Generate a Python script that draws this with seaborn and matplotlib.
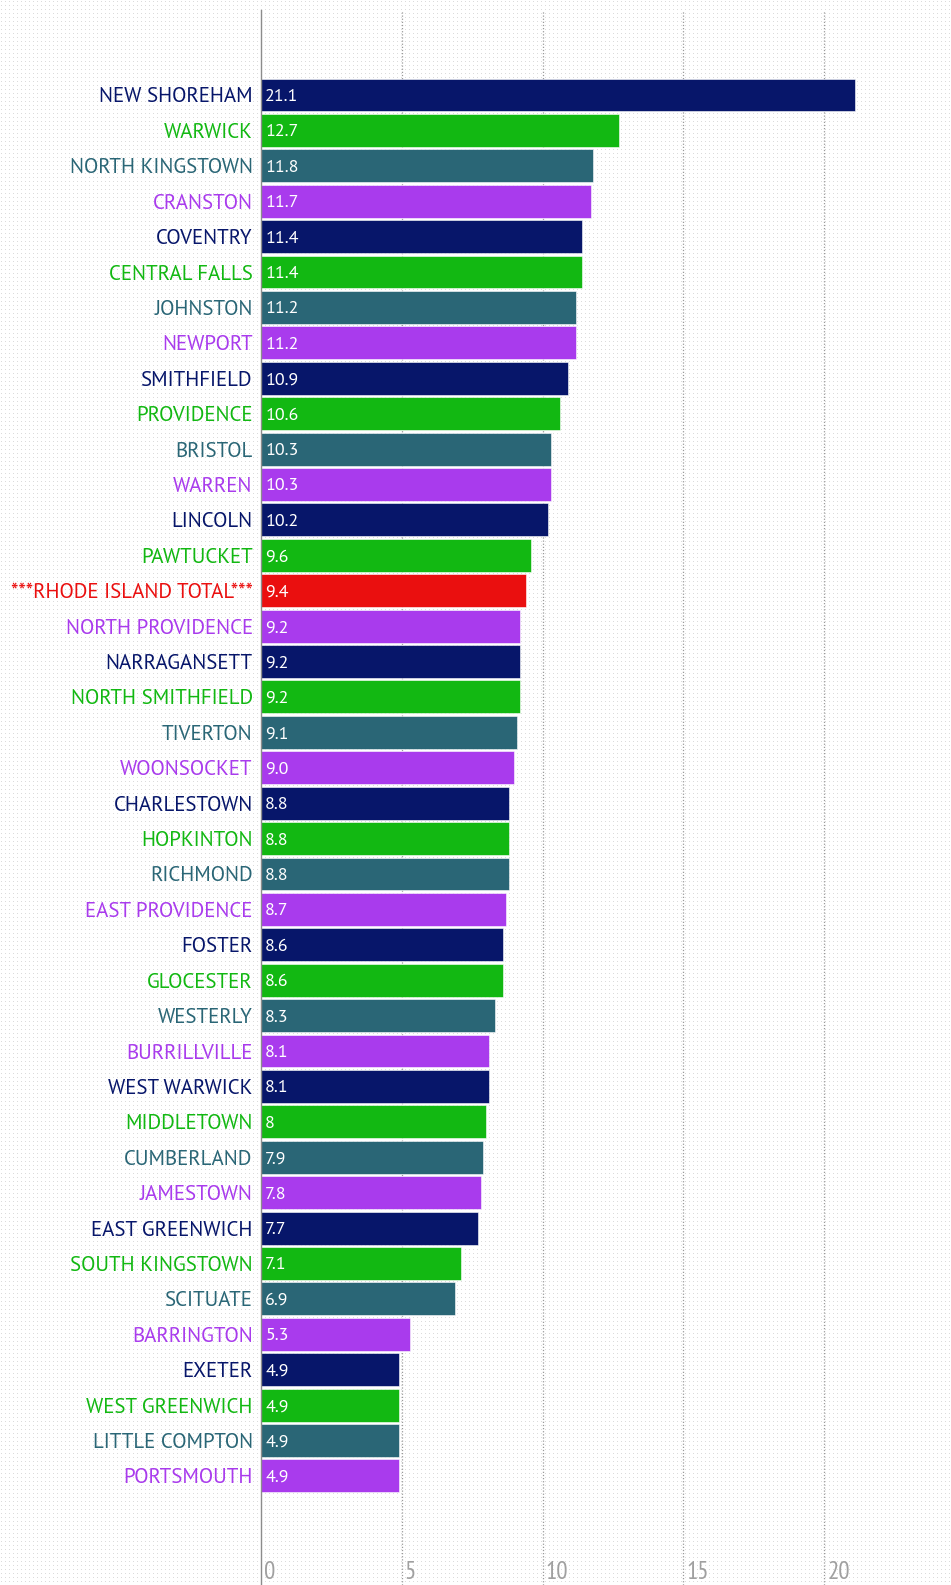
import numpy as np
import pandas as pd
import matplotlib
matplotlib.use("Agg")
import matplotlib.pyplot as plt
import matplotlib.transforms as mtrans
import seaborn as sns

# Municipalities, ordered from highest to lowest rate
towns = [
    "NEW SHOREHAM", "WARWICK", "NORTH KINGSTOWN", "CRANSTON", "COVENTRY",
    "CENTRAL FALLS", "JOHNSTON", "NEWPORT", "SMITHFIELD", "PROVIDENCE",
    "BRISTOL", "WARREN", "LINCOLN", "PAWTUCKET", "***RHODE ISLAND TOTAL***",
    "NORTH PROVIDENCE", "NARRAGANSETT", "NORTH SMITHFIELD", "TIVERTON", "WOONSOCKET",
    "CHARLESTOWN", "HOPKINTON", "RICHMOND", "EAST PROVIDENCE", "FOSTER",
    "GLOCESTER", "WESTERLY", "BURRILLVILLE", "WEST WARWICK", "MIDDLETOWN",
    "CUMBERLAND", "JAMESTOWN", "EAST GREENWICH", "SOUTH KINGSTOWN", "SCITUATE",
    "BARRINGTON", "EXETER", "WEST GREENWICH", "LITTLE COMPTON", "PORTSMOUTH",
]

# Values as printed on the bars
value_text = [
    "21.1", "12.7", "11.8", "11.7", "11.4",
    "11.4", "11.2", "11.2", "10.9", "10.6",
    "10.3", "10.3", "10.2", "9.6", "9.4",
    "9.2", "9.2", "9.2", "9.1", "9.0",
    "8.8", "8.8", "8.8", "8.7", "8.6",
    "8.6", "8.3", "8.1", "8.1", "8",
    "7.9", "7.8", "7.7", "7.1", "6.9",
    "5.3", "4.9", "4.9", "4.9", "4.9",
]
values = [float(s) for s in value_text]

x_ticks = [0, 5, 10, 15, 20]

cycle_colors = ["#07166a", "#12b812", "#2a6676", "#a93bed"]
total_color = "#ea0f0f"
total_name = "***RHODE ISLAND TOTAL***"

colors = [total_color if t == total_name else cycle_colors[i % 4]
          for i, t in enumerate(towns)]

df = pd.DataFrame({"town": towns, "value": values})

label_font = ["PT Sans", "DejaVu Sans"]
tick_font = ["PT Sans Narrow", "DejaVu Sans"]

W, H, DPI = 951, 1585, 100
fig = plt.figure(figsize=(W / DPI, H / DPI), dpi=DPI)
fig.patch.set_facecolor("white")

# Fine dotted paper texture behind everything
tex = np.ones((H, W, 3))
tex[1::4, 1::4, :] = 0.86
fig.figimage(tex, xo=0, yo=0, zorder=-10)

ax = fig.add_axes([261 / W, 0, 1 - 261 / W, 1 - 10 / H])
ax.set_facecolor("none")
ax.set_zorder(5)

sns.barplot(
    data=df, x="value", y="town", hue="town",
    palette=dict(zip(towns, colors)), saturation=1, legend=False,
    orient="h", width=0.93, ax=ax, edgecolor="white", linewidth=0.4,
    zorder=3,
)

ax.set_xlim(0, 24.5)
ax.set_ylim(42.08, -2.4)
ax.set_xlabel("")
ax.set_ylabel("")

# Grid lines
for xv in x_ticks[1:]:
    ax.axvline(xv, color="#9a9a9a", lw=0.9, ls=(0, (1, 1.5)), zorder=1)

for side in ["top", "right", "bottom"]:
    ax.spines[side].set_visible(False)
ax.spines["left"].set_color("#8c8c8c")
ax.spines["left"].set_linewidth(1.0)
ax.spines["left"].set_zorder(4)

# Category labels
ax.tick_params(axis="y", length=0, pad=6)
ax.set_yticks(range(len(towns)))
ax.set_yticklabels(towns, fontsize=15, fontfamily=label_font)
for lbl, c in zip(ax.get_yticklabels(), colors):
    lbl.set_color(c)
    lbl.set_verticalalignment("center_baseline")

# x tick labels sit inside the plot near the bottom edge
ax.set_xticks(x_ticks)
ax.set_xticklabels([str(t) for t in x_ticks], fontsize=18,
                   fontfamily=tick_font, color="#a0a0a0")
ax.tick_params(axis="x", length=0, pad=-17)
offset = mtrans.ScaledTranslation(3 / DPI, 0, fig.dpi_scale_trans)
for lbl in ax.get_xticklabels():
    lbl.set_horizontalalignment("left")
    lbl.set_transform(lbl.get_transform() + offset)

# Value labels inside bars
for i, (v, s) in enumerate(zip(values, value_text)):
    ax.text(0.15, i, s, color="white", fontsize=13, fontfamily=label_font,
            ha="left", va="center_baseline", zorder=5)

fig.savefig("out.png", dpi=DPI)
